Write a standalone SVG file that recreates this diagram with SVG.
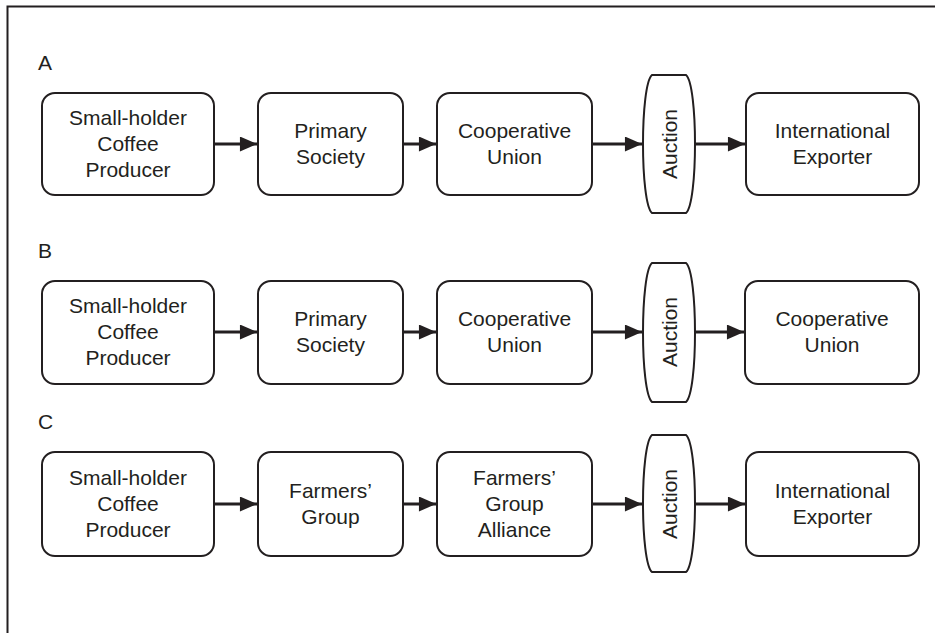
<svg xmlns="http://www.w3.org/2000/svg" width="935" height="633" viewBox="0 0 935 633">
<defs>
<style>
.box{fill:#fff;stroke:#231f20;stroke-width:2}
.t{font-family:"Liberation Sans",Arial,sans-serif;font-size:21px;fill:#231f20;text-anchor:middle}
.lbl{font-family:"Liberation Sans",Arial,sans-serif;font-size:21px;fill:#231f20}
.c{stroke:#231f20;stroke-width:3;fill:none;marker-end:url(#ah)}
.frame{stroke:#231f20;stroke-width:2;fill:none}
</style>
<marker id="ah" markerWidth="6" markerHeight="5" refX="5" refY="2.2" orient="auto" markerUnits="strokeWidth" viewBox="0 0 5 4.4">
<path d="M0,0 L5,2.2 L0,4.4 Z" fill="#231f20"/>
</marker>
</defs>
<rect width="935" height="633" fill="#fff"/>
<path class="frame" d="M7.5,633 V6.5 H935"/>

<text class="lbl" x="38" y="70">A</text>
<text class="lbl" x="38" y="258">B</text>
<text class="lbl" x="38" y="429">C</text>

<g id="connectors">
<line class="c" x1="214" y1="144" x2="257" y2="144"/>
<line class="c" x1="403" y1="144" x2="436" y2="144"/>
<line class="c" x1="592" y1="144" x2="642" y2="144"/>
<line class="c" x1="695" y1="144" x2="745" y2="144"/>

<line class="c" x1="214" y1="332" x2="257" y2="332"/>
<line class="c" x1="403" y1="332" x2="436" y2="332"/>
<line class="c" x1="592" y1="332" x2="642" y2="332"/>
<line class="c" x1="695" y1="332" x2="744" y2="332"/>

<line class="c" x1="214" y1="504" x2="257" y2="504"/>
<line class="c" x1="403" y1="504" x2="436" y2="504"/>
<line class="c" x1="592" y1="504" x2="642" y2="504"/>
<line class="c" x1="695" y1="504" x2="745" y2="504"/>
</g>

<!-- Row A -->
<g id="a1"><rect class="box" x="42" y="93" width="172" height="102" rx="13"/>
<text class="t" x="128" y="124.5">Small-holder</text><text class="t" x="128" y="150.5">Coffee</text><text class="t" x="128" y="176.5">Producer</text></g>
<g id="a2"><rect class="box" x="258" y="93" width="145" height="102" rx="13"/>
<text class="t" x="330.5" y="137.5">Primary</text><text class="t" x="330.5" y="163.5">Society</text></g>
<g id="a3"><rect class="box" x="437" y="93" width="155" height="102" rx="13"/>
<text class="t" x="514.5" y="137.5">Cooperative</text><text class="t" x="514.5" y="163.5">Union</text></g>
<g id="a4"><path class="box" d="M652,75 H686 C698,85 698,203 686,213 H652 C640,203 640,85 652,75 Z"/>
<text class="t" transform="translate(669,144) rotate(-90)" x="0" y="7.5">Auction</text></g>
<g id="a5"><rect class="box" x="746" y="93" width="173" height="102" rx="13"/>
<text class="t" x="832.5" y="137.5">International</text><text class="t" x="832.5" y="163.5">Exporter</text></g>

<!-- Row B -->
<g id="b1"><rect class="box" x="42" y="281" width="172" height="103" rx="13"/>
<text class="t" x="128" y="312.5">Small-holder</text><text class="t" x="128" y="338.5">Coffee</text><text class="t" x="128" y="364.5">Producer</text></g>
<g id="b2"><rect class="box" x="258" y="281" width="145" height="103" rx="13"/>
<text class="t" x="330.5" y="325.5">Primary</text><text class="t" x="330.5" y="351.5">Society</text></g>
<g id="b3"><rect class="box" x="437" y="281" width="155" height="103" rx="13"/>
<text class="t" x="514.5" y="325.5">Cooperative</text><text class="t" x="514.5" y="351.5">Union</text></g>
<g id="b4"><path class="box" d="M652,263 H686 C698,273 698,392 686,402 H652 C640,392 640,273 652,263 Z"/>
<text class="t" transform="translate(669,332) rotate(-90)" x="0" y="7.5">Auction</text></g>
<g id="b5"><rect class="box" x="745" y="281" width="174" height="103" rx="13"/>
<text class="t" x="832" y="325.5">Cooperative</text><text class="t" x="832" y="351.5">Union</text></g>

<!-- Row C -->
<g id="c1"><rect class="box" x="42" y="452" width="172" height="104" rx="13"/>
<text class="t" x="128" y="484.5">Small-holder</text><text class="t" x="128" y="510.5">Coffee</text><text class="t" x="128" y="536.5">Producer</text></g>
<g id="c2"><rect class="box" x="258" y="452" width="145" height="104" rx="13"/>
<text class="t" x="330.5" y="497.5">Farmers’</text><text class="t" x="330.5" y="523.5">Group</text></g>
<g id="c3"><rect class="box" x="437" y="452" width="155" height="104" rx="13"/>
<text class="t" x="514.5" y="484.5">Farmers’</text><text class="t" x="514.5" y="510.5">Group</text><text class="t" x="514.5" y="536.5">Alliance</text></g>
<g id="c4"><path class="box" d="M652,435 H686 C698,445 698,562 686,572 H652 C640,562 640,445 652,435 Z"/>
<text class="t" transform="translate(669,504) rotate(-90)" x="0" y="7.5">Auction</text></g>
<g id="c5"><rect class="box" x="746" y="452" width="173" height="104" rx="13"/>
<text class="t" x="832.5" y="497.5">International</text><text class="t" x="832.5" y="523.5">Exporter</text></g>
</svg>
